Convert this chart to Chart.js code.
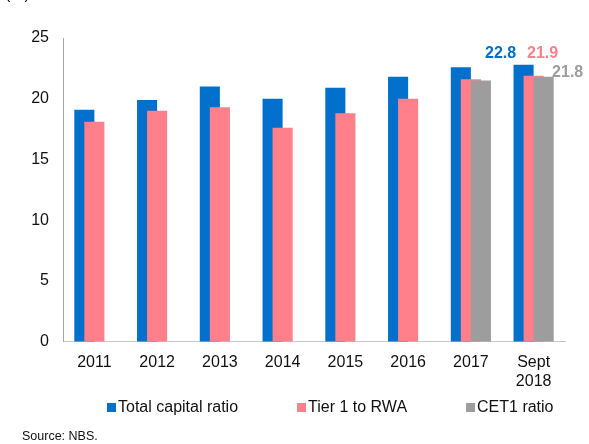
<!DOCTYPE html>
<html>
<head>
<meta charset="utf-8">
<script src="https://cdn.jsdelivr.net/npm/chart.js@4"></script>
<style>
  body { margin: 0; background: #fff; }
  #wrap { width: 589px; height: 444px; }
</style>
</head>
<body>
<div id="wrap"><canvas id="capitalChart" width="589" height="444"></canvas></div>
<script>
const years = ['2011', '2012', '2013', '2014', '2015', '2016', '2017', ['Sept', '2018']];
const totalCapital = [19.1, 19.9, 21.0, 20.0, 20.9, 21.8, 22.6, 22.8];
const tier1ToRwa = [18.1, 19.0, 19.3, 17.6, 18.8, 20.0, 21.6, 21.9];
const cet1 = [null, null, null, null, null, null, 21.5, 21.8];
const yTicks = [0, 5, 10, 15, 20, 25];

const BLUE = '#0070CC';
const PINK = '#FF7F8B';
const GREY = '#9D9D9D';
const FONT = "'Liberation Sans', Arial, sans-serif";

// draw first dataset first so pink sits over blue and grey over pink
const drawInOrder = {
    id: 'drawInOrder',
    beforeDatasetsDraw(chart) {
        for (let i = 0; i < chart.data.datasets.length; i++) {
            const meta = chart.getDatasetMeta(i);
            if (meta.visible) meta.controller.draw();
        }
        return false;
    }
};

// labels on the last bars, legend and source line
const extras = {
    id: 'extras',
    afterDraw(chart) {
        const ctx = chart.ctx;
        const last = years.length - 1;
        const offsets = [[-23, -11], [9, -22], [24, -4]];
        ctx.save();
        ctx.font = 'bold 16px ' + FONT;
        ctx.textAlign = 'center';
        ctx.textBaseline = 'middle';
        chart.data.datasets.forEach((ds, i) => {
            const el = chart.getDatasetMeta(i).data[last];
            ctx.fillStyle = ds.backgroundColor;
            ctx.fillText(ds.data[last].toFixed(1), el.x + offsets[i][0], el.y + offsets[i][1]);
        });

        // legend
        ctx.font = '16px ' + FONT;
        ctx.textAlign = 'left';
        let x = 107;
        chart.data.datasets.forEach(ds => {
            ctx.fillStyle = ds.backgroundColor;
            ctx.fillRect(x, 403, 9, 9);
            ctx.fillStyle = '#111';
            ctx.fillText(ds.label, x + 11, 408);
            x += 11 + ctx.measureText(ds.label).width + 59;
        });

        ctx.font = '12.5px ' + FONT;
        ctx.fillText('Source: NBS.', 22, 437);
        ctx.font = '16px ' + FONT;
        ctx.textBaseline = 'alphabetic';
        ctx.fillText('(%)', 5, -1);
        ctx.restore();
    }
};

function chart() {
    const ctx = document.getElementById('capitalChart').getContext('2d');
    new Chart(ctx, {
        type: 'bar',
        data: {
            labels: years,
            datasets: [
                { label: 'Total capital ratio', data: totalCapital, backgroundColor: BLUE },
                { label: 'Tier 1 to RWA', data: tier1ToRwa, backgroundColor: PINK },
                { label: 'CET1 ratio', data: cet1, backgroundColor: GREY }
            ]
        },
        options: {
            responsive: false,
            animation: false,
            categoryPercentage: 0.48,
            barPercentage: 2,
            layout: { padding: { top: 38, right: 24, bottom: 42, left: 0 } },
            plugins: {
                legend: { display: false },
                tooltip: { enabled: false }
            },
            scales: {
                x: {
                    grid: { display: false, drawTicks: false },
                    border: { display: true, color: '#c8c8c8' },
                    ticks: { color: '#111', padding: 11, maxRotation: 0, font: { size: 16, family: FONT } }
                },
                y: {
                    min: 0,
                    max: 25,
                    afterFit(scale) { scale.width = 63; },
                    afterBuildTicks(scale) { scale.ticks = yTicks.map(v => ({ value: v })); },
                    grid: { display: false, drawTicks: false },
                    border: { display: true, color: '#a6a6a6' },
                    ticks: { color: '#111', padding: 14, font: { size: 16, family: FONT } }
                }
            }
        },
        plugins: [drawInOrder, extras]
    });
}

window.onload = chart;
</script>
</body>
</html>
